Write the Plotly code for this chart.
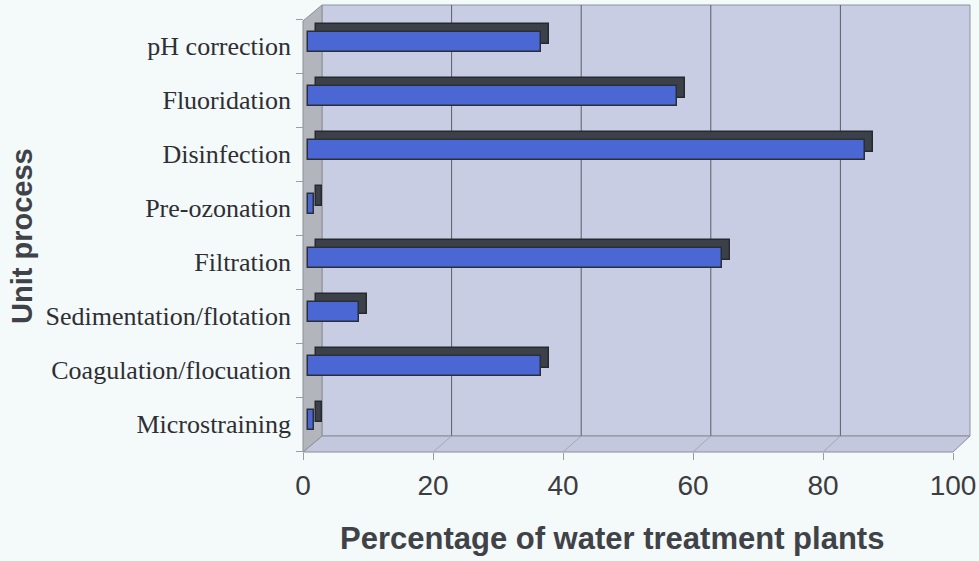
import plotly.graph_objects as go

# ---------------- data (Excel order: first category at the bottom) ----------------
categories = [
    "Microstraining",
    "Coagulation/flocuation",
    "Sedimentation/flotation",
    "Filtration",
    "Pre-ozonation",
    "Disinfection",
    "Fluoridation",
    "pH correction",
]
percentages = [1, 36, 8, 64, 1, 86, 57, 36]
x_ticks = [0, 20, 40, 60, 80, 100]
x_title = "Percentage of water treatment plants"
y_title = "Unit process"

# ---------------- geometry (pixels) ----------------
W, H = 979, 561
DOM_X = (296, 976)      # left, right
DOM_Y = (2, 458)        # top, bottom
CAT_STEP = 54.0

FRONT_X0, FRONT_S = 303.0, 6.5      # front edge: value 0 pixel, px per unit
FRONT_CAT0 = 424.0                  # centre of first category on front plane
BACK_X0, BACK_S = 322.0, 6.48       # back wall
BACK_TOP, BACK_BOTTOM = 5.0, 436.0
FRONT_BOTTOM = 452.0
BAR_X0, BAR_S, BAR_CAT0 = 307.5, 6.48, 420.0   # bar front face plane
DEPTH_DX, DEPTH_DY = 8.0, -8.0                 # bar depth offset


def px(p):
    return p / W


def py(p):
    return 1 - p / H


def xrange_for(p0, v0, s):
    return [v0 + (DOM_X[0] - p0) / s, v0 + (DOM_X[1] - p0) / s]


def yrange_for(p0, v0, s):
    return [v0 + (p0 - DOM_Y[1]) / s, v0 + (p0 - DOM_Y[0]) / s]


x_domain = [px(DOM_X[0]), px(DOM_X[1])]
y_domain = [py(DOM_Y[1]), py(DOM_Y[0])]

fig = go.Figure()

# invisible trace to carry the front category axis / value axis
fig.add_trace(go.Scatter(
    x=percentages, y=categories, mode="markers",
    marker=dict(opacity=0), hoverinfo="skip", showlegend=False,
    xaxis="x", yaxis="y",
))

# back (depth) faces of the bars
fig.add_trace(go.Bar(
    x=percentages, y=categories, orientation="h", width=0.37,
    marker=dict(color="#3c4048", line=dict(color="#262a30", width=1.5)),
    showlegend=False, xaxis="x2", yaxis="y2", hoverinfo="skip",
))

# front faces of the bars
fig.add_trace(go.Bar(
    x=percentages, y=categories, orientation="h", width=0.37,
    marker=dict(color="#4a67d4", line=dict(color="#2a2e36", width=1.5)),
    showlegend=False, xaxis="x3", yaxis="y3",
))

# ---------------- frame shapes (walls, floor, gridlines) ----------------
shapes = []
# back wall
shapes.append(dict(type="rect", xref="paper", yref="paper", layer="below",
                   x0=px(BACK_X0), x1=px(BACK_X0 + 100 * BACK_S),
                   y0=py(BACK_BOTTOM), y1=py(BACK_TOP),
                   fillcolor="#c8cde3", line=dict(color="#8e939c", width=1)))
# floor
fx0, fx1 = FRONT_X0, FRONT_X0 + 100 * FRONT_S
bx0, bx1 = BACK_X0, BACK_X0 + 100 * BACK_S
floor_path = (f"M {px(fx0)} {py(FRONT_BOTTOM)} L {px(bx0)} {py(BACK_BOTTOM)} "
              f"L {px(bx1)} {py(BACK_BOTTOM)} L {px(fx1)} {py(FRONT_BOTTOM)} Z")
shapes.append(dict(type="path", path=floor_path, xref="paper", yref="paper",
                   layer="below", fillcolor="#c3c8df",
                   line=dict(color="#8a8e98", width=1)))
# left wall
front_top = BACK_TOP + (FRONT_BOTTOM - BACK_BOTTOM)
left_path = (f"M {px(fx0)} {py(FRONT_BOTTOM)} L {px(bx0)} {py(BACK_BOTTOM)} "
             f"L {px(bx0)} {py(BACK_TOP)} L {px(fx0)} {py(front_top)} Z")
shapes.append(dict(type="path", path=left_path, xref="paper", yref="paper",
                   layer="below", fillcolor="#b2b5bb",
                   line=dict(color="#8c9097", width=1)))
# gridlines on back wall + floor diagonals
for v in x_ticks[1:-1]:
    xb = BACK_X0 + v * BACK_S
    xf = FRONT_X0 + v * FRONT_S
    shapes.append(dict(type="line", xref="paper", yref="paper", layer="below",
                       x0=px(xb), x1=px(xb), y0=py(BACK_BOTTOM), y1=py(BACK_TOP),
                       line=dict(color="#5a5e66", width=1)))
    shapes.append(dict(type="line", xref="paper", yref="paper", layer="below",
                       x0=px(xb), x1=px(xf), y0=py(BACK_BOTTOM), y1=py(FRONT_BOTTOM),
                       line=dict(color="#a3a8b4", width=1)))

fig.update_layout(
    width=W, height=H,
    margin=dict(l=0, r=0, t=0, b=0),
    paper_bgcolor="#f4f9fa",
    plot_bgcolor="rgba(0,0,0,0)",
    bargap=0,
    shapes=shapes,
    showlegend=False,
    xaxis=dict(
        domain=x_domain, range=xrange_for(FRONT_X0, 0, FRONT_S),
        anchor="free", position=py(FRONT_BOTTOM),
        tickmode="array", tickvals=x_ticks, ticks="outside", ticklen=7,
        tickcolor="#9a9ea4", showgrid=False, zeroline=False, showline=False,
        tickfont=dict(family="Arial, Liberation Sans", size=28, color="#3c3d40"),
        ticklabelstandoff=1,
    ),
    yaxis=dict(
        domain=y_domain, type="category",
        categoryorder="array", categoryarray=categories,
        range=yrange_for(FRONT_CAT0, 0, CAT_STEP),
        anchor="free", position=px(FRONT_X0),
        ticks="outside", tickson="boundaries", ticklen=7, tickcolor="#9a9ea4",
        showgrid=False, zeroline=False, showline=False,
        tickfont=dict(family="Times New Roman, Liberation Serif", size=26, color="#2e2f33"),
        ticklabelstandoff=12,
    ),
    xaxis2=dict(overlaying="x", anchor="y2", visible=False,
                range=xrange_for(BAR_X0 + DEPTH_DX, 0, BAR_S)),
    yaxis2=dict(overlaying="y", anchor="x2", visible=False, type="category",
                categoryorder="array", categoryarray=categories,
                range=yrange_for(BAR_CAT0 + DEPTH_DY, 0, CAT_STEP)),
    xaxis3=dict(overlaying="x", anchor="y3", visible=False,
                range=xrange_for(BAR_X0, 0, BAR_S)),
    yaxis3=dict(overlaying="y", anchor="x3", visible=False, type="category",
                categoryorder="array", categoryarray=categories,
                range=yrange_for(BAR_CAT0, 0, CAT_STEP)),
    annotations=[
        dict(text=f"<b>{x_title}</b>", xref="paper", yref="paper",
             x=px(612), y=py(538), xanchor="center", yanchor="middle",
             showarrow=False,
             font=dict(family="Arial, Liberation Sans", size=31, color="#3f4247")),
        dict(text=f"<b>{y_title}</b>", xref="paper", yref="paper",
             x=px(22), y=py(236), xanchor="center", yanchor="middle",
             textangle=-90, showarrow=False,
             font=dict(family="Arial, Liberation Sans", size=29, color="#3f4247")),
    ],
)

fig.write_html(
    "out.html",
    config={"displayModeBar": False},
    post_script="document.body.style.margin='0';document.body.style.overflow='hidden';",
)
